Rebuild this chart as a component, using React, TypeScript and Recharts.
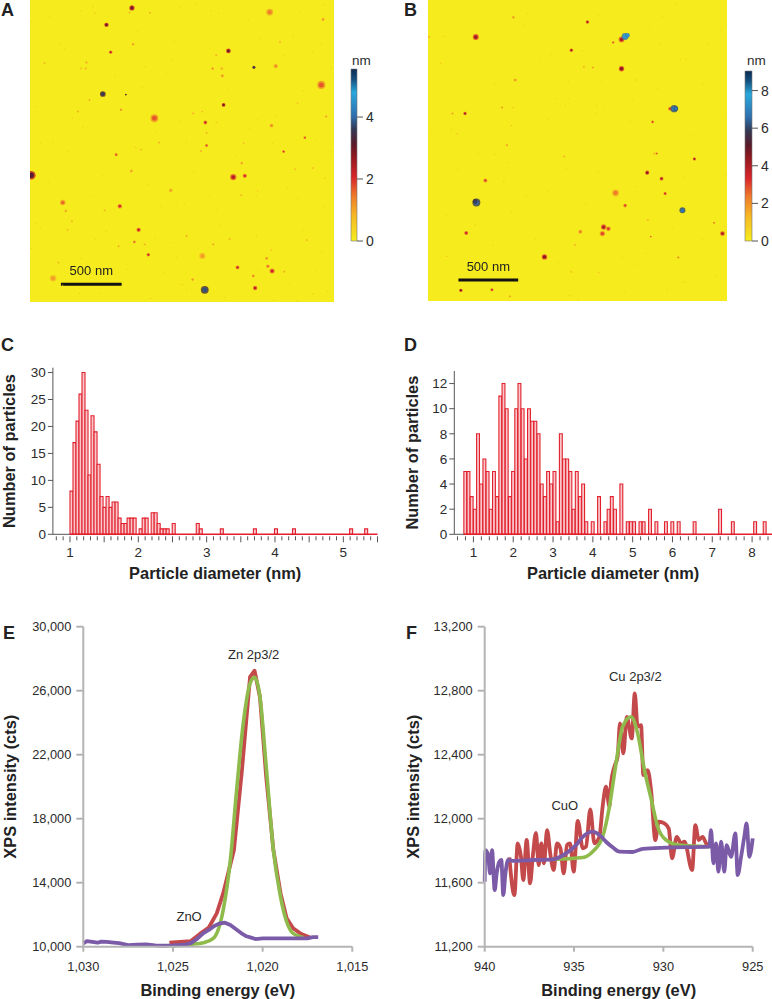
import React from 'react';
import {
  BarChart, Bar, LineChart, Line, ScatterChart, Scatter, XAxis, YAxis,
  ReferenceArea, ReferenceDot, ReferenceLine,
} from 'recharts';

// AFM particles: [x nm, y nm from top, height nm, apparent diameter nm]
const particlesA = [
  [840,65,3,33],[630,205,3,28],[665,430,2.2,22],[850,365,1.3,16],[990,105,1,14],[535,110,.8,10],[820,105,1,12],
  [1975,100,1.4,44],[2415,160,1.2,20],[1635,420,3,30],[2060,345,1,14],[1535,455,1,14],[1505,565,1.2,18],
  [1580,565,.9,20],[1585,625,1.3,20],[1845,555,3.6,20],[2025,545,1.3,28],[2400,700,1.7,52],[120,520,1,12],
  [465,515,1,16],[460,565,1,14],[420,565,1,12],[600,775,3.6,36],[790,780,3.5,12],[490,825,1.1,14],[395,920,1.1,14],
  [750,905,1.4,16],[1025,975,1.7,50],[1595,865,3,24],[1345,935,1,14],[1420,920,.9,12],[1445,1010,2.2,24],
  [1535,1010,.9,10],[1455,1095,1,14],[1990,1035,1.3,24],[2440,960,1.1,16],[2205,850,.8,12],[2265,1135,1.8,18],
  [1065,1175,1,14],[915,1235,1,12],[870,1215,.8,10],[710,1275,1.8,20],[1455,1200,1.8,20],[1410,1245,1,14],
  [1760,1180,.9,12],[2090,1250,2,18],[1745,1345,1.2,16],[835,1410,1.1,20],[2185,1395,.9,12],[2330,1385,.9,12],
  [10,1445,3.2,55],[1675,1460,2.4,40],[1770,1450,2,28],[1160,1570,1.1,24],[1740,1610,.9,14],[1875,1575,.7,10],
  [2430,1470,.7,10],[270,1670,1.6,34],[295,1740,1.1,18],[740,1700,2,28],[615,1735,.9,14],[345,1825,1,14],
  [310,1895,.9,14],[895,1895,2.2,28],[860,1995,1.6,18],[945,2015,1,14],[730,2030,1,14],[975,2100,2.2,22],
  [1290,1945,1.1,14],[1510,2015,1.2,14],[1645,1970,.9,14],[1420,2110,1.1,40],[1865,1950,.7,10],[2280,1980,.9,14],
  [1950,2130,1.4,18],[1990,2060,.8,12],[1960,2195,1.6,22],[1995,2235,2.2,32],[2095,2240,1.1,14],[1710,2205,2.2,24],
  [1840,2275,1.5,18],[1855,2375,2.3,28],[1340,2305,1.2,18],[1440,2390,3.8,50],[190,2295,1.1,42],[235,2165,.9,14],
  [995,2460,.7,10],[2335,2425,.7,10],[410,2420,.7,10],[1255,2345,.8,10],
];
const specksA = [
  [890,255],[245,360],[285,405],[50,880],[315,1250],[190,1170],[435,1050],[350,975],[50,1840],[85,1880],[520,1620],
  [540,1975],[945,550],[1125,610],[1165,495],[925,720],[1290,1170],[1035,1080],[1275,1680],[1205,1690],[1480,1620],
  [1535,1730],[1645,1540],[1865,1610],[2210,1635],[2415,1705],[2400,360],[2170,290],[2100,455],[2330,435],[2250,750],
  [2020,950],[1880,985],[1810,1065],[1490,85],[1555,110],[1235,55],[1635,740],[1205,2120],[2060,2160],[2140,2350],
  [2005,2475],[1880,2225],[2360,2225],[2405,2075],[630,1910],[1030,1965],[270,2350],[575,2420],[1290,2390],[520,55],
  [10,2050],[10,180],[1370,30],[1900,320],[2230,95],[2480,560],[2480,1250],[2350,1150],[2120,1550],[2250,1900],
  [1560,1860],[1180,2000],[1100,2250],[800,2220],[420,2130],[150,1500],[90,1180],[600,1450],[970,1520],[1080,1700],
  [1350,1420],[1600,2450],[2200,2480],[2450,2400],[1700,1280],[2000,1180],[1230,1000],[700,620],[1190,340],[1800,170],
  [2420,40],[160,140],[420,90],
];
const particlesB = [
  [400,310,4.2,38],[10,310,2,12],[130,305,1.2,10],[715,145,2,18],[835,115,1,8],[1335,185,4,22],[1620,330,4,36],
  [1650,305,7.5,44],[1670,295,7.5,30],[1550,355,3,16],[1200,420,4,22],[1295,425,1,8],[1620,575,4.5,34],[1305,560,1.5,14],[1380,565,2,14],
  [105,530,1.2,10],[730,670,2,20],[1740,670,1.2,10],[1450,680,.7,7],[310,950,4,22],[205,950,2,14],[620,900,2,14],
  [710,900,1.2,10],[2025,910,3,24],[2060,910,6.8,46],[2075,910,6.8,30],[1880,1020,3.5,16],[700,1050,1.5,10],[245,1120,1.5,10],
  [195,1085,1.2,8],[25,1115,1,6],[660,1215,2,14],[1140,1310,1.6,14],[1895,1285,1.6,14],[1915,1285,3,14],[2230,1330,4,20],
  [1835,1445,4.5,26],[1955,1495,4,24],[1985,1620,3.5,20],[480,1510,3,26],[635,1520,1,10],[1425,1440,1,8],[2150,1490,1,8],
  [675,1360,1,8],[250,1415,1,8],[1570,1615,2.3,44],[405,1695,6.5,50],[395,1685,6,30],[1650,1720,3,24],[2130,1760,6.7,38],[700,1775,1,8],
  [1840,1840,1.5,14],[2395,1865,3,12],[2465,1955,4,30],[395,1880,1,8],[320,1950,3.5,26],[1275,1940,2.3,26],
  [1510,1915,3,30],[1460,1955,3,34],[1470,1900,4,34],[1865,1980,3,12],[1230,2050,1.5,14],[545,2055,1,8],[975,2150,4.5,34],
  [160,2145,1.2,10],[2095,2155,2.5,14],[1755,2210,1,8],[1200,2275,1.5,12],[1430,2280,1.2,10],[2415,2305,1,8],
  [1090,2195,1,8],[2140,2360,1,8],[275,2430,4.5,22],[535,2425,3.5,20],[685,2480,2,14],[1185,2475,1.2,10],
];
const specksB = [
  [2340,365],[1935,370],[1860,245],[1965,140],[2080,35],[810,210],[945,490],[1030,455],[2160,495],[2115,495],[1175,680],
  [1080,825],[1175,825],[1415,880],[1480,900],[1410,955],[1715,830],[1920,740],[2495,950],[2495,1465],[1695,1020],
  [1320,1710],[80,720],[1155,1410],[905,2400],[1630,2160],[1825,2120],[2480,1895],[1260,2510],[420,1290],[150,1800],
  [2000,2420],[2300,2000],[2200,1130],[1000,1600],[1750,1560],[1150,880],[820,1640],[560,700],[350,450],[1650,2450],
  [1000,1000],[2300,700],[2450,250],[1430,130],[900,2000],[560,1290],[2050,1900],
];

// colour scale of the height bars, bottom to top
const scaleOffsets = [0.01, 0.146, 0.262, 0.369, 0.495, 0.563, 0.65, 0.728, 0.864, 0.94, 1];
const scaleColors = ['#f5ea1e', '#f6b825', '#ee7a2a', '#d9262b', '#8f1820', '#5a1a28', '#333a55', '#2e6fae', '#29a8dc', '#14507f', '#0c2a52'];

// histograms
const countsC = [
  8,17,21,26,30,23,11,22,19,13,7,5,7,5,6,6,3,2,2,3,3,3,0,1,3,3,0,4,4,2,1,1,1,0,2,0,0,0,0,0,0,0,2,1,0,0,0,0,0,0,1,
  0,0,0,0,0,0,0,0,0,0,1,0,0,0,0,0,0,1,0,0,0,0,0,1,0,0,0,0,0,0,0,0,0,0,0,0,0,0,0,0,0,0,1,0,0,0,0,1,
];
const countsD = [
  5,5,3,2,8,4,6,5,2,5,3,11,12,10,3,5,10,12,10,6,10,9,9,8,4,3,5,4,5,1,8,6,6,5,2,5,3,4,1,0,1,0,3,0,1,2,3,2,0,4,0,1,1,1,
  0,1,1,0,2,0,1,0,0,1,0,1,0,1,0,0,0,0,1,0,0,0,0,0,0,0,2,0,0,0,1,0,0,0,0,0,0,1,0,0,1,
];
const binStartC = 1, binWidthC = 0.044;
const binStartD = 0.76, binWidthD = 0.08;
const ticksC = Array.from({ length: 48 }, (_, i) => Number((0.8 + i * 0.1).toFixed(1)));
const ticksD = Array.from({ length: 40 }, (_, i) => Number((0.6 + i * 0.2).toFixed(1)));

// XPS Zn
const purpleEnergyE = [1030,1029.8,1029.5,1029.2,1029,1028.7,1028.3,1028,1027.5,1027,1026.5,1026,1025.5,1025,1024.6,1024.3,1024,1023.7,1023.3,1023,1022.7,1022.4,1022.1,1021.8,1021.5,1021.2,1020.9,1020.6,1020.4,1020,1017.5,1017.2,1016.9];
const purpleE = [10200,10350,10300,10250,10320,10300,10250,10220,10100,10130,10150,10080,10060,10080,10120,10150,10220,10450,10850,11050,11300,11450,11500,11350,11100,10850,10650,10550,10480,10520,10520,10600,10600];
const redEnergyE = [1025.2,1024.6,1024,1023.5,1023,1022.56,1022.2,1021.6,1021.17,1020.7,1020.45,1020.15,1019.8,1019.4,1019,1018.66,1018.3,1017.9,1017.36];
const redE = [10250,10300,10350,10800,11200,12080,13330,16040,20830,26870,27250,25600,20600,16040,13330,11770,11150,10830,10580];
const greenEnergyE = [1025,1024,1023.3,1022.75,1022.2,1021.8,1021.45,1021.08,1020.7,1020.45,1020.15,1019.8,1019.4,1019,1018.66,1018.3,1017.73];
const greenE = [10050,10150,10250,10520,12290,15420,19790,23960,26460,26830,25620,21250,16040,13100,11560,10830,10580];

// XPS Cu
const purpleEnergyF = [940,939.96,939.81,939.7,939.59,939.44,939.33,939.18,939.07,938.96,938.84,938.69,938.43,937.31,936.19,935.45,934.89,934.51,933.96,933.58,933.21,932.84,932.46,931.72,931.16,929.85,927.43,927.33,927.2,927.05,926.92,926.77,926.59,926.46,926.21,925.97,925.84,925.65,925.47,925.34,925.19,925];
const purpleF = [11606,11804,11773,11658,11804,11554,11658,11731,11742,11523,11658,11742,11737,11742,11746,11783,11835,11887,11919,11898,11856,11821,11794,11792,11812,11819,11825,11929,11721,11846,11669,11856,11669,11835,11762,11908,11648,11762,11887,11971,11762,11877];
const redEnergyF = [938.62,938.34,938.15,937.97,937.84,937.65,937.46,937.31,937.13,936.98,936.83,936.68,936.51,936.32,936.14,935.95,935.76,935.58,935.39,935.22,935.02,934.79,934.51,934.33,934.09,933.86,933.58,933.4,933.21,933.02,932.93,932.74,932.56,932.43,932.24,932.05,931.77,931.6,931.44,931.25,931.12,930.88,930.69,930.45,930.26,929.94,929.7,929.51,929.25,929.01,928.82,928.39,928.21,928.02,927.8,927.61,927.43];
const redF = [11758,11523,11846,11762,11617,11867,11596,11762,11912,11710,11846,11721,11929,11773,11679,11846,11815,11658,11835,11846,11669,11987,11815,11825,12058,11846,11887,12075,12200,12075,12221,12325,12387,12596,12408,12637,12502,12783,12575,12585,12273,12304,12179,11867,11981,11971,11939,11752,11887,11846,11856,11679,11960,11867,11887,11846,11825];
const greenEnergyF = [936.19,934.51,933.96,933.4,933.02,932.65,932.28,931.81,931.44,931.06,930.69,930.32,929.85,929.1,927.43];
const greenF = [11746,11758,11794,11887,12075,12346,12575,12637,12533,12304,12127,11950,11867,11835,11825];

const FONT = '"Liberation Sans", Arial, sans-serif';
const TEXT = '#2b2b2b';
const DARK_AXIS = '#555';
const GREY_AXIS = '#b4b4b4';
const HIST_RED = '#e2202d';
const RED = '#c4494a';
const GREEN = '#8fbb4d';
const PURPLE = '#7b5ba8';
const NM_PER_PX = 8.25;
const TITLE_SIZE = 16.4;

const zip = (xs: number[], ys: number[]) => xs.map((x, i) => ({ x, y: ys[i] }));

const mix = (a: string, b: string, t: number) => {
  const ch = (c: string, i: number) => parseInt(c.slice(1 + i * 2, 3 + i * 2), 16);
  const out = [0, 1, 2].map((i) => Math.round(ch(a, i) + (ch(b, i) - ch(a, i)) * t));
  return `rgb(${out.join(',')})`;
};

const heightColor = (t: number) => {
  if (t <= scaleOffsets[0]) return scaleColors[0];
  for (let i = 1; i < scaleOffsets.length; i++) {
    if (t <= scaleOffsets[i]) {
      return mix(scaleColors[i - 1], scaleColors[i], (t - scaleOffsets[i - 1]) / (scaleOffsets[i] - scaleOffsets[i - 1]));
    }
  }
  return scaleColors[scaleColors.length - 1];
};

const Note = ({ x, y, children }: any) => (
  <div style={{ position: 'absolute', left: x, top: y, fontSize: 18, fontWeight: 700, lineHeight: 1, color: '#222' }}>{children}</div>
);

const Blob = ({ cx, cy, payload, maxHeight }: any) => {
  const r = payload.d / 2 / NM_PER_PX;
  const t = payload.h / maxHeight;
  return (
    <g>
      <circle cx={cx} cy={cy} r={r * 1.3} fill={heightColor(t > 0.6 ? t * 0.9 : t * 0.7)} opacity={0.8} />
      <circle cx={cx} cy={cy} r={r * 0.8} fill={heightColor(t)} />
    </g>
  );
};

const AfmImage = ({ left, width, margin, xMax, yMax, particles, specks, maxHeight, speckHeight }: any) => {
  const table = particles.map(([x, y, h, d]: number[]) => ({ x, y, h, d }));
  const speckTable = specks.map(([x, y]: number[]) => ({ x, y, h: speckHeight, d: 7 }));
  return (
    <div style={{ position: 'absolute', left, top: 0, filter: 'blur(0.4px)' }}>
      <ScatterChart width={width} height={310} margin={margin}>
        <XAxis type="number" dataKey="x" domain={[0, xMax]} hide allowDataOverflow />
        <YAxis type="number" dataKey="y" domain={[0, yMax]} reversed hide allowDataOverflow />
        <ReferenceArea x1={0} x2={xMax} y1={0} y2={yMax} fill="#f5eb1d" fillOpacity={1} stroke="none" />
        <Scatter data={speckTable} isAnimationActive={false} shape={(p: any) => <Blob {...p} maxHeight={maxHeight} />} />
        <Scatter data={table} isAnimationActive={false} shape={(p: any) => <Blob {...p} maxHeight={maxHeight} />} />
        <ReferenceLine segment={[{ x: 255, y: 2343 }, { x: 755, y: 2343 }]} stroke="#111" strokeWidth={3} />
        <ReferenceDot x={505} y={2230} r={0} stroke="none" fill="none"
          label={{ value: '500 nm', position: 'center', fill: '#222', fontSize: 13 }} />
      </ScatterChart>
    </div>
  );
};

const ColorBar = ({ id, left, width, margin, axisWidth, ticks, yMax }: any) => (
  <div style={{ position: 'absolute', left, top: 60 }}>
    <BarChart width={width} height={190} margin={margin} data={[{ name: 'height', top: yMax }]} barCategoryGap={0}>
      <defs>
        <linearGradient id={id} x1="0" y1="1" x2="0" y2="0">
          {scaleOffsets.map((o, i) => <stop key={o} offset={o} stopColor={scaleColors[i]} />)}
        </linearGradient>
      </defs>
      <XAxis dataKey="name" hide />
      <YAxis orientation="right" type="number" domain={[0, yMax]} ticks={ticks} width={axisWidth} axisLine={false}
        tickSize={6} tickMargin={3} interval={0} tick={{ fill: TEXT, fontSize: 14 }} tickLine={{ stroke: DARK_AXIS }} />
      <Bar dataKey="top" fill={`url(#${id})`} stroke="#777" strokeWidth={0.6} isAnimationActive={false} />
    </BarChart>
  </div>
);

const histTick = (longEvery: (v: number) => boolean) => ({ x, y, payload }: any) => {
  const v = payload.value;
  const major = Number.isInteger(v);
  return (
    <g>
      <line x1={x} x2={x} y1={y} y2={y + (major || longEvery(v) ? 6 : 4)} stroke={DARK_AXIS} />
      {major && <text x={x} y={y + 21} textAnchor="middle" fontSize={13.5} fill={TEXT}>{v}</text>}
    </g>
  );
};

const Histogram = ({ left, counts, binStart, binWidth, barSize, domain, ticks, yMax, yTicks, margin, longEvery }: any) => {
  const table = counts.map((n: number, i: number) => ({ x: binStart + binWidth * (i + 0.5), n }));
  return (
    <div style={{ position: 'absolute', left, top: 360 }}>
      <BarChart width={386} height={225} data={table} margin={margin} barCategoryGap={0}>
        <XAxis type="number" dataKey="x" domain={domain} ticks={ticks} interval={0} allowDataOverflow
          height={50.7} tickSize={0} tickLine={false} axisLine={false} tick={histTick(longEvery)}
          label={{ value: 'Particle diameter (nm)', position: 'insideBottom', offset: 6, fill: '#222', fontSize: TITLE_SIZE, fontWeight: 700 }} />
        <YAxis type="number" domain={[0, yMax]} ticks={yTicks} interval={0} width={margin.yw} stroke={DARK_AXIS}
          tickSize={5} tickMargin={2} tick={{ fill: TEXT, fontSize: 13.5 }}
          label={{ value: 'Number of particles', angle: -90, position: 'insideLeft', offset: margin.titleX, fill: '#222', fontSize: TITLE_SIZE, fontWeight: 700, style: { textAnchor: 'middle' } }} />
        <Bar dataKey="n" barSize={barSize} fill="#f9c6ca" stroke={HIST_RED} strokeWidth={1.1} isAnimationActive={false} />
        <ReferenceLine segment={[{ x: domain[0], y: 0 }, { x: binStart, y: 0 }]} stroke={DARK_AXIS} strokeWidth={1} />
        <ReferenceLine segment={[{ x: binStart, y: 0 }, { x: domain[1], y: 0 }]} stroke={HIST_RED} strokeWidth={1.4} />
      </BarChart>
    </div>
  );
};

const XpsChart = ({ left, width, yAxisWidth, right, domain, xTicks, yDomain, yTicks, titleX, red, green, purple, notes, curve }: any) => (
  <div style={{ position: 'absolute', left, top: 615 }}>
    <LineChart width={width} height={384} margin={{ top: 11.7, right, bottom: 0, left: 0 }}>
      <XAxis type="number" dataKey="x" domain={domain} reversed ticks={xTicks} interval={0} height={52.3}
        stroke={GREY_AXIS} strokeWidth={2} tickSize={5} tickMargin={10} tick={{ fill: TEXT, fontSize: 12.8 }}
        tickFormatter={(v: number) => v.toLocaleString('en-US')}
        label={{ value: 'Binding energy (eV)', position: 'insideBottom', offset: 3, fill: '#222', fontSize: TITLE_SIZE, fontWeight: 700 }} />
      <YAxis type="number" domain={yDomain} ticks={yTicks} interval={0} width={yAxisWidth}
        stroke={GREY_AXIS} strokeWidth={2} tickSize={7} tickMargin={5} tick={{ fill: TEXT, fontSize: 12.8 }}
        tickFormatter={(v: number) => v.toLocaleString('en-US')}
        label={{ value: 'XPS intensity (cts)', angle: -90, position: 'insideLeft', offset: titleX, fill: '#222', fontSize: TITLE_SIZE, fontWeight: 700, style: { textAnchor: 'middle' } }} />
      <Line data={red} dataKey="y" type={curve} stroke={RED} strokeWidth={3.8} strokeLinejoin="round" dot={false} isAnimationActive={false} />
      <Line data={green} dataKey="y" type="monotone" stroke={GREEN} strokeWidth={3.6} dot={false} isAnimationActive={false} />
      <Line data={purple} dataKey="y" type={curve} stroke={PURPLE} strokeWidth={3.8} strokeLinejoin="round" dot={false} isAnimationActive={false} />
      {notes.map((n: any) => (
        <ReferenceDot key={n.text} x={n.x} y={n.y} r={0} stroke="none" fill="none"
          label={{ value: n.text, position: 'center', fill: TEXT, fontSize: 13 }} />
      ))}
    </LineChart>
  </div>
);

export default function App() {
  return (
    <div style={{ position: 'absolute', left: 0, top: 0, width: 772, height: 999, overflow: 'hidden', background: '#fff', fontFamily: FONT }}>
      <AfmImage left={0} width={386} margin={{ top: 0, right: 52, bottom: 8, left: 30 }} xMax={2505} yMax={2490}
        particles={particlesA} specks={specksA} maxHeight={5.55} speckHeight={0.7} />
      <AfmImage left={386} width={386} margin={{ top: 0, right: 45, bottom: 9, left: 42 }} xMax={2503} yMax={2519}
        particles={particlesB} specks={specksB} maxHeight={9} speckHeight={1} />

      <ColorBar id="scaleA" left={340} width={46} axisWidth={29} margin={{ top: 9, right: 0, bottom: 9, left: 11 }}
        ticks={[0, 2, 4]} yMax={5.55} />
      <ColorBar id="scaleB" left={734} width={38} axisWidth={20} margin={{ top: 11, right: 0, bottom: 9, left: 11 }}
        ticks={[0, 2, 4, 6, 8]} yMax={9.04} />
      <div style={{ position: 'absolute', left: 352, top: 53, fontSize: 13.5, color: TEXT }}>nm</div>
      <div style={{ position: 'absolute', left: 747, top: 53, fontSize: 13.5, color: TEXT }}>nm</div>

      <Histogram left={0} counts={countsC} binStart={binStartC} binWidth={binWidthC} barSize={3} domain={[0.75, 5.5]}
        ticks={ticksC} yMax={30.9} yTicks={[0, 5, 10, 15, 20, 25, 30]} longEvery={(v: number) => Math.abs(v * 2 - Math.round(v * 2)) < 0.01}
        margin={{ top: 7.7, right: 8.5, bottom: 0, left: 0, yw: 52.9, titleX: 9 }} />
      <Histogram left={386} counts={countsD} binStart={binStartD} binWidth={binWidthD} barSize={3.2} domain={[0.52, 8.5]}
        ticks={ticksD} yMax={13} yTicks={[0, 2, 4, 6, 8, 10, 12]} longEvery={() => false}
        margin={{ top: 11, right: 0, bottom: 0, left: 0, yw: 68.3, titleX: 26 }} />

      <XpsChart left={0} width={386} yAxisWidth={83.3} right={33.7} domain={[1015, 1030]} xTicks={[1030, 1025, 1020, 1015]}
        yDomain={[10000, 30000]} yTicks={[10000, 14000, 18000, 22000, 26000, 30000]} titleX={10} curve="linear"
        red={zip(redEnergyE, redE)} green={zip(greenEnergyE, greenE)} purple={zip(purpleEnergyE, purpleE)}
        notes={[{ text: 'Zn 2p3/2', x: 1020.5, y: 28290 }, { text: 'ZnO', x: 1024.1, y: 11917 }]} />
      <XpsChart left={386} width={386} yAxisWidth={98.7} right={19.3} domain={[925, 940]} xTicks={[940, 935, 930, 925]}
        yDomain={[11200, 13200]} yTicks={[11200, 11600, 12000, 12400, 12800, 13200]} titleX={27} curve="monotone"
        red={zip(redEnergyF, redF)} green={zip(greenEnergyF, greenF)} purple={zip(purpleEnergyF, purpleF)}
        notes={[{ text: 'Cu 2p3/2', x: 931.57, y: 12891 }, { text: 'CuO', x: 935.52, y: 12085 }]} />

      <Note x={1} y={1}>A</Note>
      <Note x={404} y={1}>B</Note>
      <Note x={1} y={336}>C</Note>
      <Note x={404} y={336}>D</Note>
      <Note x={3} y={624}>E</Note>
      <Note x={406} y={624}>F</Note>
    </div>
  );
}
